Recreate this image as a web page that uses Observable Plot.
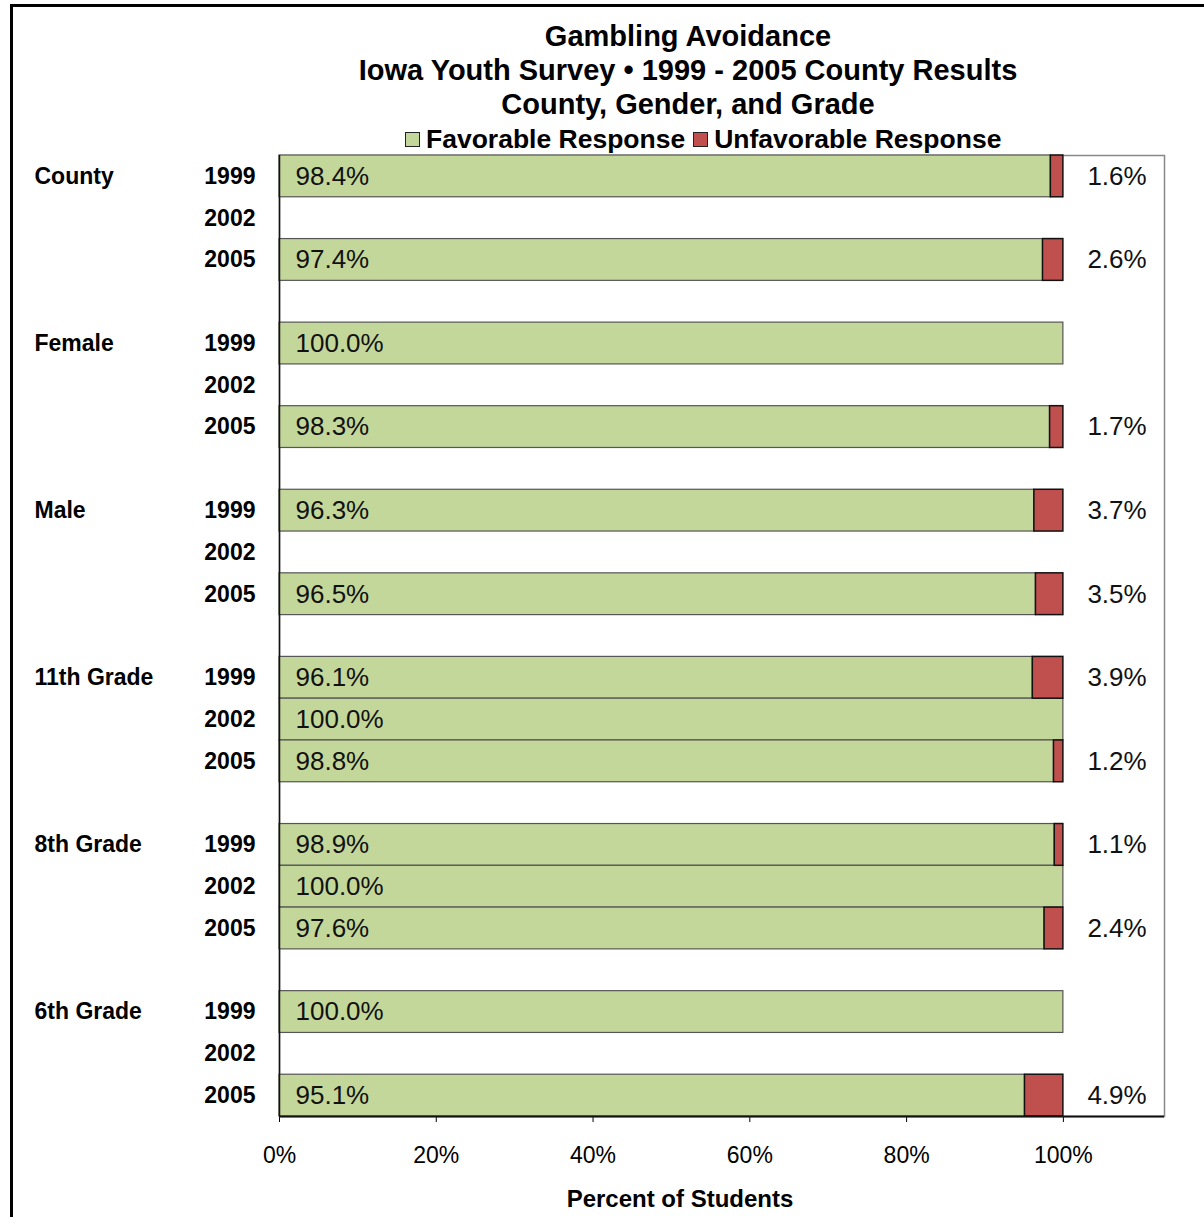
<!DOCTYPE html>
<html>
<head>
<meta charset="utf-8">
<script src="https://cdn.jsdelivr.net/npm/d3@7"></script>
<script src="https://cdn.jsdelivr.net/npm/@observablehq/plot@0.6"></script>
<style>
  html, body { margin: 0; padding: 0; background: #fff; }
  body { width: 1204px; height: 1217px; position: relative; overflow: hidden; font-family: "Liberation Sans", Arial, sans-serif; }
  #frame { position: absolute; left: 10px; top: 4px; width: 1400px; height: 1400px; border-left: 3px solid #000; border-top: 3px solid #000; box-sizing: border-box; }
  #title { position: absolute; left: 288px; width: 800px; top: 19px; text-align: center; font-weight: bold; font-size: 29px; line-height: 34px; color: #000; }
  #legend { position: absolute; left: 405px; top: 124px; display: flex; align-items: center; font-weight: bold; font-size: 26.5px; color: #000; white-space: nowrap; }
  .sw { width: 13px; height: 13px; border: 1.5px solid #222; margin-right: 6px; display: inline-block; }
  #chart { position: absolute; left: 0; top: 145px; }
</style>
</head>
<body>
<div id="frame"></div>
<div id="title">Gambling Avoidance<br>Iowa Youth Survey • 1999 - 2005 County Results<br>County, Gender, and Grade</div>
<div id="legend"></div>
<div id="chart"></div>
<script>
const groups = ["County", "Female", "Male", "11th Grade", "8th Grade", "6th Grade"];
const years = ["1999", "2002", "2005"];
// Favorable / Unfavorable percentages per group, by year (null = no data)
const favorable = [
  [98.4, null, 97.4],
  [100.0, null, 98.3],
  [96.3, null, 96.5],
  [96.1, 100.0, 98.8],
  [98.9, 100.0, 97.6],
  [100.0, null, 95.1]
];
const unfavorable = [
  [1.6, null, 2.6],
  [0.0, null, 1.7],
  [3.7, null, 3.5],
  [3.9, 0.0, 1.2],
  [1.1, 0.0, 2.4],
  [0.0, null, 4.9]
];
const xTicks = [0, 20, 40, 60, 80, 100];
const seriesNames = ["Favorable Response", "Unfavorable Response"];
const seriesColors = ["#C4D79B", "#C0504D"];
const xTitle = "Percent of Students";

// Build band domain: 3 year slots per group plus a spacer slot between groups
const yDomain = [];
groups.forEach((g, i) => {
  years.forEach(y => yDomain.push(g + "|" + y));
  if (i < groups.length - 1) yDomain.push("gap" + i);
});

const rows = [];
groups.forEach((g, i) => {
  years.forEach((y, j) => {
    const f = favorable[i][j];
    if (f == null) return;
    rows.push({group: g, year: y, key: g + "|" + y, fav: f, unf: unfavorable[i][j], total: f + unfavorable[i][j]});
  });
});
const groupLabels = groups.map(g => ({group: g, key: g + "|1999"}));

// Legend
const leg = document.getElementById("legend");
seriesNames.forEach((n, i) => {
  const s = document.createElement("span");
  s.className = "sw";
  s.style.background = seriesColors[i];
  leg.appendChild(s);
  const t = document.createElement("span");
  t.textContent = n;
  t.style.marginRight = i === 0 ? "8px" : "0";
  leg.appendChild(t);
});

const fmt = v => v.toFixed(1) + "%";
const H = 1072, MT = 10, MB = 101;
const step = (H - MT - MB) / yDomain.length;

const chart = Plot.plot({
  width: 1204,
  height: H,
  marginLeft: 279,
  marginRight: 40,
  marginTop: MT,
  marginBottom: MB,
  style: {fontFamily: "'Liberation Sans', Arial, sans-serif", fontSize: "23px", color: "#000", background: "transparent"},
  x: {domain: [0, 112.9], ticks: xTicks, tickFormat: d => d + "%", tickSize: 6, tickPadding: 24, label: null},
  y: {domain: yDomain, padding: 0, round: false, axis: null},
  marks: [
    Plot.frame({stroke: "#888", strokeWidth: 1.5}),
    Plot.barX(rows, {y: "key", x1: 0, x2: "fav", fill: seriesColors[0], stroke: "#555", strokeWidth: 1.2}),
    Plot.barX(rows.filter(d => d.unf > 0), {y: "key", x1: "fav", x2: "total", fill: seriesColors[1], stroke: "#111", strokeWidth: 1.5}),
    Plot.text(rows, {y: "key", x: 0, text: d => fmt(d.fav), textAnchor: "start", dx: 16, fontSize: 26, fill: "#111"}),
    Plot.text(rows.filter(d => d.unf > 0), {y: "key", x: "total", text: d => fmt(d.unf), textAnchor: "start", dx: 24, fontSize: 26, fill: "#111"}),
    Plot.axisY(yDomain.filter(k => k.includes("|")), {tickSize: 0, tickPadding: 24, tickFormat: k => k.split("|")[1], fontWeight: "bold", fontSize: 23, label: null}),
    Plot.text(groupLabels, {y: "key", frameAnchor: "left", dx: -245, text: "group", textAnchor: "start", fontWeight: "bold", fontSize: 23}),
    Plot.text([xTitle], {frameAnchor: "bottom", text: d => d, dx: -42, dy: 90, fontWeight: "bold", fontSize: 24}),
    Plot.ruleX([0], {stroke: "#111", strokeWidth: 1.5}),
    Plot.ruleY([0], {y: () => yDomain[yDomain.length - 1], dy: step / 2, stroke: "#111", strokeWidth: 2})
  ]
});
document.getElementById("chart").appendChild(chart);
</script>
</body>
</html>
